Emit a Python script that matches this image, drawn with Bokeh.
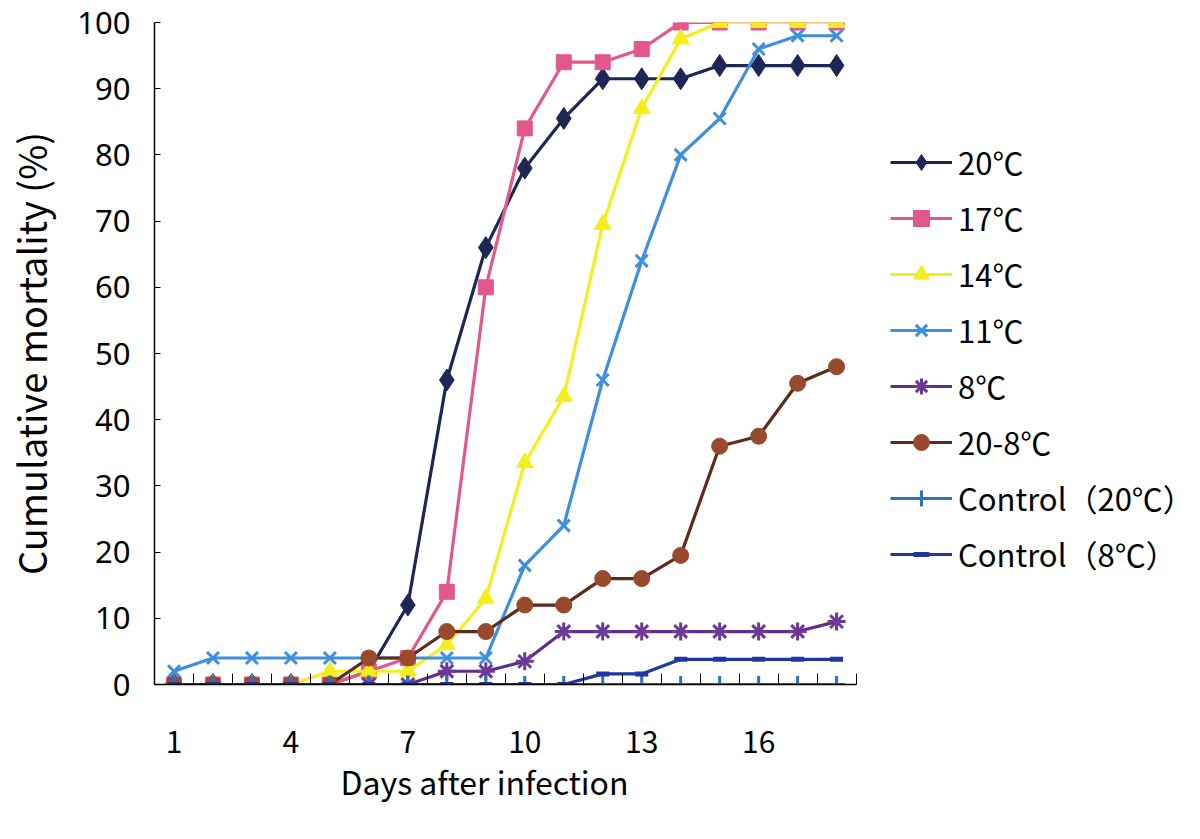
from bokeh.plotting import figure
from bokeh.models import Range1d, FixedTicker, Legend, LegendItem, Title
from bokeh.embed import file_html
from bokeh.resources import INLINE

days = list(range(1, 19))
m20 = [0, 0, 0, 0, 0, 2, 12, 46, 66, 78, 85.5, 91.5, 91.5, 91.5, 93.5, 93.5, 93.5, 93.5]
m17 = [0, 0, 0, 0, 0, 2, 4, 14, 60, 84, 94, 94, 96, 100, 100, 100, 100, 100]
m14 = [0, 0, 0, 0, 2, 2, 2, 6, 13, 33.5, 43.5, 69.5, 87, 97.5, 100, 100, 100, 100]
m11 = [2, 4, 4, 4, 4, 4, 4, 4, 4, 18, 24, 46, 64, 80, 85.5, 96, 98, 98]
m8 = [0, 0, 0, 0, 0, 0, 0, 2, 2, 3.5, 8, 8, 8, 8, 8, 8, 8, 9.5]
m20_8 = [0, 0, 0, 0, 0, 4, 4, 8, 8, 12, 12, 16, 16, 19.5, 36, 37.5, 45.5, 48]
ctrl20 = [0, 0, 0, 0, 0, 0, 0, 0, 0, 0, 0, 0, 0, 0, 0, 0, 0, 0]
ctrl8 = [0, 0, 0, 0, 0, 0, 0, 0, 0, 0, 0, 1.6, 1.6, 3.8, 3.8, 3.8, 3.8, 3.8]

labels = ["20℃", "17℃", "14℃", "11℃", "8℃", "20-8℃", "Control（20℃）", "Control（8℃）"]
x_tick_labels = [1, 4, 7, 10, 13, 16]
y_ticks = [0, 10, 20, 30, 40, 50, 60, 70, 80, 90, 100]
x_title = "Days after infection"
y_title = "Cumulative mortality (%)"

W, H = 1190, 831
LEFT, TOP, BOTTOM = 146, 22, 147
PLOT_W = 707                      # width of the days 0.5..18.5 region
px_per_day = PLOT_W / 18.0
x_end = 0.5 + (W - LEFT) / px_per_day   # frame extends under the legend

p = figure(width=W, height=H, output_backend="svg", toolbar_location=None,
           x_range=Range1d(0.5, x_end), y_range=Range1d(0, 100),
           min_border_left=LEFT, min_border_right=0, min_border_top=TOP,
           min_border_bottom=BOTTOM)
p.outline_line_color = None
p.xgrid.visible = False
p.ygrid.visible = False
p.background_fill_color = "white"
p.border_fill_color = "white"

# axes
xa = p.xaxis[0]
xa.bounds = (0.5, 18.5)
xa.ticker = FixedTicker(ticks=x_tick_labels, minor_ticks=[d - 0.5 for d in days] + [18.5])
xa.major_tick_in = 0
xa.major_tick_out = 0
xa.minor_tick_in = 11
xa.minor_tick_out = 0
xa.minor_tick_line_color = "black"
xa.axis_line_color = "black"
xa.axis_line_width = 1.5
xa.major_label_standoff = 46
xa.major_label_text_font = "Noto Sans CJK JP"
xa.major_label_text_font_size = "30px"
xa.major_label_text_color = "black"

# x-axis title, placed under the day axis (left-aligned with an offset)
xt = Title(text=x_title, align="left", offset=186, standoff=0,
           text_font="Noto Sans CJK JP", text_font_size="32px",
           text_font_style="normal", text_color="black")
p.add_layout(xt, "below")

ya = p.yaxis[0]
ya.ticker = FixedTicker(ticks=y_ticks)
ya.minor_tick_line_color = None
ya.major_tick_in = 6
ya.major_tick_out = 0
ya.axis_line_color = "black"
ya.axis_line_width = 1.5
ya.major_label_standoff = 24
ya.major_label_text_font = "Noto Sans"
ya.major_label_text_font_size = "31px"
ya.major_label_text_color = "black"
ya.axis_label = y_title
ya.axis_label_text_font = "Noto Sans CJK JP"
ya.axis_label_text_font_style = "normal"
ya.axis_label_text_font_size = "38px"
ya.axis_label_text_color = "black"
ya.axis_label_standoff = 16

series = [
    (m20, "#1d2656", "#1d2656", "diamond", 22, 1),
    (m17, "#e2588c", "#e2588c", "square", 15, 1),
    (m14, "#f4ee1c", "#f4ee1c", "triangle", 17, 1),
    (m11, "#3e8fe0", "#3e8fe0", "x", 17, 3),
    (m8, "#5f2f86", "#6a3a96", "asterisk", 18, 3),
    (m20_8, "#5e2a1c", "#9a4a2c", "circle", 16, 1),
    (ctrl20, "#2f72b8", "#2f72b8", "cross", 17, 3),
    (ctrl8, "#2136a0", "#2136a0", "dash", 13, 5),
]

items = []
for (vals, lc, mc, mk, sz, mlw), lab in zip(series, labels):
    r1 = p.line(days, vals, line_color=lc, line_width=3.2)
    r2 = p.scatter(days, vals, marker=mk, size=sz, fill_color=mc, line_color=mc,
                   line_width=mlw)
    items.append(LegendItem(label=lab, renderers=[r1, r2]))

legend = Legend(items=items, location=(727, 99))
legend.margin = 0
legend.padding = 9
legend.glyph_width = 62
legend.glyph_height = 40
legend.label_height = 40
legend.spacing = 11
legend.label_standoff = 6
legend.label_text_font = "Noto Sans CJK JP"
legend.label_text_font_size = "31px"
legend.label_text_color = "black"
legend.border_line_alpha = 0
legend.background_fill_alpha = 0
p.add_layout(legend)

open("out.html", "w").write(file_html(p, INLINE))
